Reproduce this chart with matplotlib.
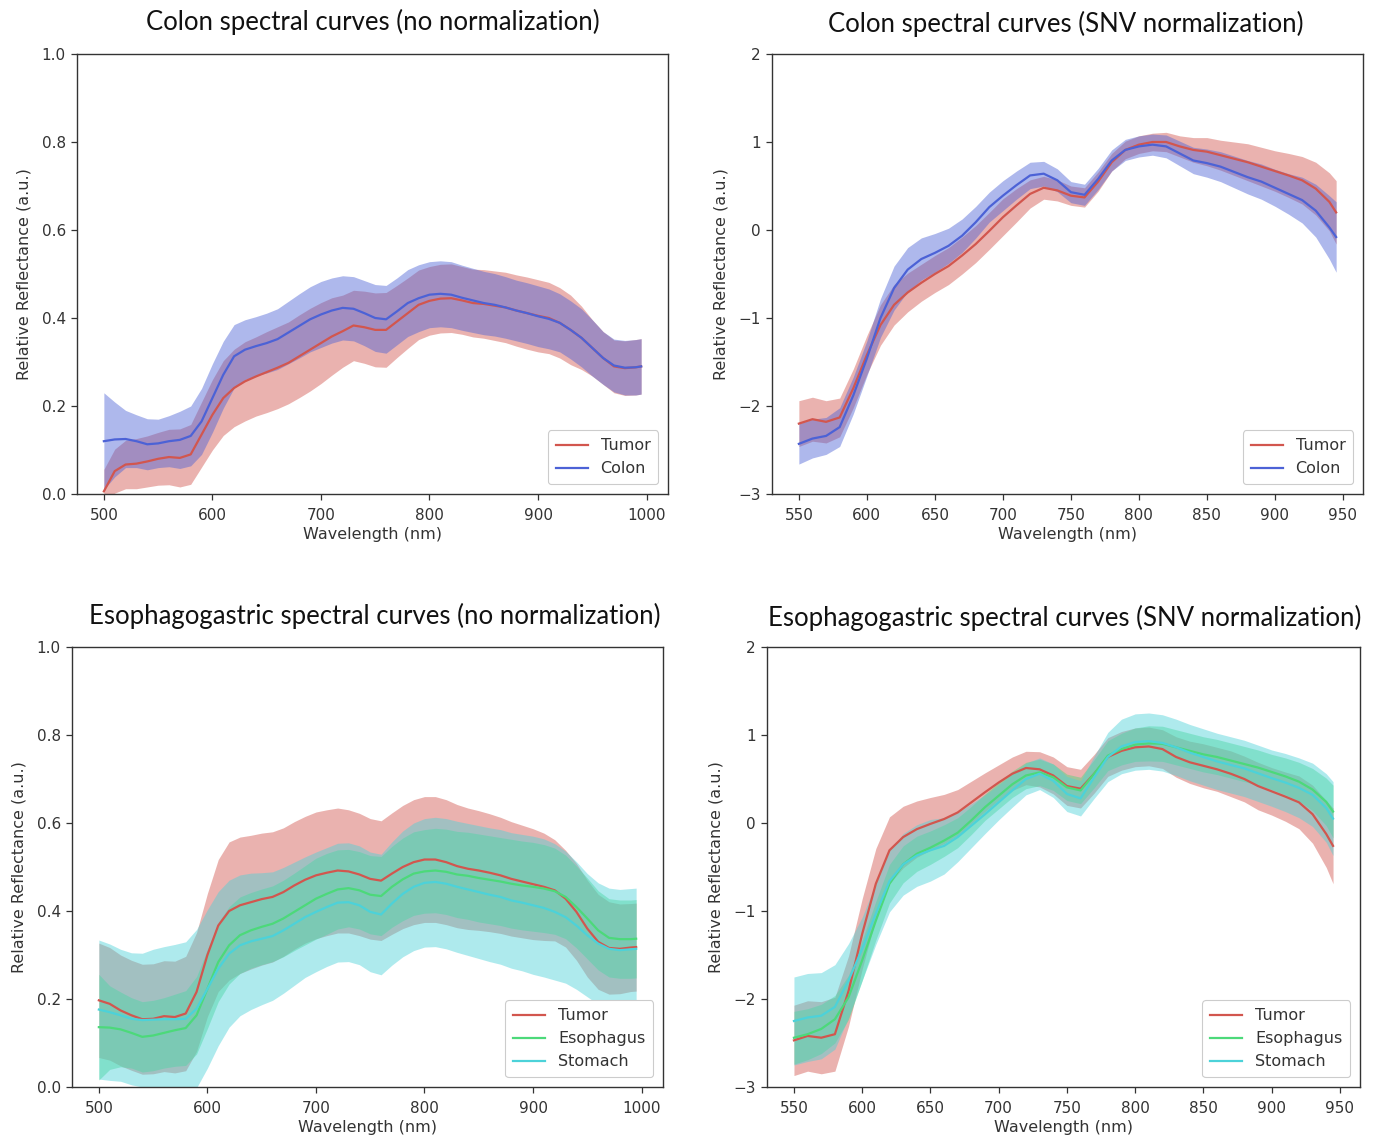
import matplotlib
matplotlib.use("Agg")
import matplotlib.pyplot as plt
import numpy as np

plt.rcParams['font.family'] = ['DejaVu Sans']

# ---------------- data ----------------
wl_raw = [500, 510, 520, 530, 540, 550, 560, 570, 580, 590,
          600, 610, 620, 630, 640, 650, 660, 670, 680, 690,
          700, 710, 720, 730, 740, 750, 760, 770, 780, 790,
          800, 810, 820, 830, 840, 850, 860, 870, 880, 890,
          900, 910, 920, 930, 940, 950, 960, 970, 980, 990, 995]
wl_snv = [550, 560, 570, 580, 590, 600, 610, 620, 630, 640,
          650, 660, 670, 680, 690, 700, 710, 720, 730, 740,
          750, 760, 770, 780, 790, 800, 810, 820, 830, 840,
          850, 860, 870, 880, 890, 900, 910, 920, 930, 940, 945]

# Colon, no normalization
colon_raw_tumor_mean = [0.006, 0.052, 0.067, 0.069, 0.074, 0.080, 0.084, 0.082, 0.090, 0.135,
                        0.180, 0.218, 0.241, 0.256, 0.267, 0.277, 0.287, 0.298, 0.313, 0.328,
                        0.343, 0.358, 0.370, 0.383, 0.379, 0.373, 0.373, 0.392, 0.411, 0.430,
                        0.439, 0.444, 0.445, 0.440, 0.434, 0.432, 0.428, 0.424, 0.417, 0.411,
                        0.405, 0.400, 0.389, 0.373, 0.355, 0.332, 0.309, 0.290, 0.286, 0.288, 0.290]
colon_raw_tumor_std = [0.050, 0.050, 0.055, 0.057, 0.058, 0.060, 0.063, 0.066, 0.068, 0.074,
                       0.080, 0.085, 0.088, 0.090, 0.090, 0.092, 0.093, 0.093, 0.094, 0.094,
                       0.092, 0.088, 0.082, 0.080, 0.082, 0.084, 0.085, 0.082, 0.080, 0.079,
                       0.078, 0.078, 0.078, 0.077, 0.077, 0.078, 0.079, 0.080, 0.081, 0.082,
                       0.082, 0.081, 0.080, 0.079, 0.072, 0.064, 0.060, 0.060, 0.062, 0.063, 0.063]
colon_raw_colon_mean = [0.120, 0.124, 0.125, 0.120, 0.113, 0.115, 0.120, 0.123, 0.132, 0.165,
                        0.218, 0.271, 0.313, 0.328, 0.336, 0.343, 0.352, 0.367, 0.382, 0.397,
                        0.408, 0.417, 0.423, 0.421, 0.411, 0.400, 0.397, 0.415, 0.434, 0.445,
                        0.453, 0.455, 0.453, 0.446, 0.440, 0.434, 0.430, 0.424, 0.417, 0.411,
                        0.404, 0.398, 0.389, 0.373, 0.355, 0.332, 0.309, 0.292, 0.287, 0.288, 0.290]
colon_raw_colon_std = [0.110, 0.085, 0.065, 0.060, 0.058, 0.055, 0.058, 0.065, 0.068, 0.075,
                       0.078, 0.076, 0.072, 0.068, 0.067, 0.068, 0.069, 0.071, 0.073, 0.074,
                       0.075, 0.074, 0.073, 0.073, 0.074, 0.076, 0.077, 0.076, 0.076, 0.076,
                       0.075, 0.075, 0.075, 0.074, 0.073, 0.072, 0.071, 0.070, 0.069, 0.069,
                       0.069, 0.068, 0.066, 0.066, 0.066, 0.064, 0.060, 0.060, 0.062, 0.063, 0.063]

# Colon, SNV normalization
colon_snv_tumor_mean = [-2.20, -2.15, -2.18, -2.13, -1.80, -1.42, -1.08, -0.85, -0.71, -0.60,
                        -0.50, -0.41, -0.29, -0.16, -0.01, 0.145, 0.28, 0.41, 0.48, 0.45,
                        0.39, 0.37, 0.55, 0.77, 0.91, 0.97, 1.00, 1.00, 0.95, 0.91,
                        0.89, 0.85, 0.81, 0.77, 0.72, 0.67, 0.62, 0.565, 0.47, 0.32, 0.20]
colon_snv_tumor_std = [0.26, 0.25, 0.24, 0.22, 0.22, 0.22, 0.23, 0.23, 0.22, 0.21,
                       0.21, 0.21, 0.21, 0.21, 0.21, 0.21, 0.19, 0.16, 0.13, 0.12,
                       0.11, 0.11, 0.11, 0.10, 0.10, 0.10, 0.10, 0.11, 0.12, 0.14,
                       0.16, 0.17, 0.19, 0.21, 0.22, 0.23, 0.25, 0.27, 0.30, 0.33, 0.36]
colon_snv_colon_mean = [-2.43, -2.37, -2.34, -2.24, -1.88, -1.46, -1.00, -0.66, -0.45, -0.33,
                        -0.26, -0.18, -0.065, 0.088, 0.26, 0.39, 0.51, 0.62, 0.64, 0.565,
                        0.43, 0.40, 0.58, 0.79, 0.91, 0.95, 0.97, 0.95, 0.87, 0.79,
                        0.76, 0.72, 0.66, 0.60, 0.55, 0.48, 0.41, 0.34, 0.22, 0.03, -0.08]
colon_snv_colon_std = [0.23, 0.22, 0.21, 0.22, 0.21, 0.20, 0.22, 0.25, 0.25, 0.24,
                       0.22, 0.20, 0.19, 0.18, 0.17, 0.17, 0.16, 0.15, 0.14, 0.13,
                       0.12, 0.12, 0.12, 0.12, 0.12, 0.12, 0.12, 0.13, 0.14, 0.15,
                       0.16, 0.17, 0.18, 0.19, 0.20, 0.21, 0.23, 0.26, 0.30, 0.36, 0.40]

# Esophagogastric, no normalization
eg_raw_tumor_mean = [0.197, 0.189, 0.174, 0.163, 0.154, 0.155, 0.161, 0.159, 0.167, 0.216,
                     0.300, 0.367, 0.400, 0.413, 0.420, 0.427, 0.432, 0.443, 0.458, 0.471,
                     0.481, 0.487, 0.492, 0.490, 0.483, 0.473, 0.469, 0.485, 0.500, 0.511,
                     0.517, 0.517, 0.511, 0.502, 0.496, 0.492, 0.487, 0.481, 0.473, 0.467,
                     0.461, 0.455, 0.447, 0.428, 0.398, 0.360, 0.330, 0.316, 0.314, 0.317, 0.318]
eg_raw_tumor_std = [0.130, 0.128, 0.126, 0.125, 0.125, 0.125, 0.126, 0.127, 0.130, 0.135,
                    0.140, 0.150, 0.157, 0.155, 0.152, 0.150, 0.148, 0.146, 0.145, 0.144,
                    0.144, 0.143, 0.142, 0.140, 0.139, 0.137, 0.136, 0.138, 0.140, 0.142,
                    0.143, 0.143, 0.142, 0.140, 0.138, 0.136, 0.134, 0.132, 0.130, 0.128,
                    0.126, 0.122, 0.115, 0.110, 0.110, 0.110, 0.108, 0.105, 0.102, 0.100, 0.100]
eg_raw_eso_mean = [0.136, 0.135, 0.131, 0.123, 0.114, 0.117, 0.123, 0.129, 0.134, 0.163,
                   0.223, 0.284, 0.322, 0.345, 0.356, 0.364, 0.371, 0.383, 0.398, 0.413,
                   0.428, 0.439, 0.449, 0.452, 0.447, 0.437, 0.434, 0.455, 0.472, 0.485,
                   0.490, 0.492, 0.489, 0.483, 0.480, 0.475, 0.471, 0.467, 0.462, 0.458,
                   0.455, 0.451, 0.445, 0.432, 0.409, 0.383, 0.356, 0.339, 0.336, 0.336, 0.337]
eg_raw_eso_std = [0.120, 0.095, 0.085, 0.080, 0.080, 0.080, 0.080, 0.082, 0.085, 0.088,
                  0.090, 0.090, 0.088, 0.087, 0.086, 0.086, 0.086, 0.087, 0.088, 0.090,
                  0.092, 0.092, 0.090, 0.088, 0.088, 0.089, 0.090, 0.092, 0.094, 0.095,
                  0.095, 0.096, 0.097, 0.098, 0.099, 0.100, 0.100, 0.100, 0.101, 0.101,
                  0.101, 0.100, 0.098, 0.095, 0.093, 0.092, 0.090, 0.089, 0.089, 0.089, 0.089]
eg_raw_sto_mean = [0.176, 0.170, 0.163, 0.155, 0.152, 0.153, 0.154, 0.154, 0.155, 0.178,
                   0.223, 0.269, 0.303, 0.322, 0.331, 0.337, 0.343, 0.356, 0.371, 0.386,
                   0.398, 0.409, 0.419, 0.420, 0.413, 0.398, 0.392, 0.417, 0.439, 0.455,
                   0.464, 0.466, 0.462, 0.455, 0.449, 0.443, 0.437, 0.432, 0.424, 0.419,
                   0.413, 0.407, 0.398, 0.386, 0.367, 0.345, 0.326, 0.314, 0.311, 0.313, 0.314]
eg_raw_sto_std = [0.158, 0.155, 0.150, 0.150, 0.152, 0.160, 0.165, 0.170, 0.175, 0.180,
                  0.180, 0.175, 0.167, 0.160, 0.155, 0.150, 0.146, 0.143, 0.140, 0.137,
                  0.136, 0.135, 0.135, 0.135, 0.135, 0.136, 0.137, 0.140, 0.143, 0.145,
                  0.146, 0.147, 0.148, 0.149, 0.150, 0.151, 0.152, 0.153, 0.154, 0.155,
                  0.157, 0.157, 0.155, 0.150, 0.145, 0.140, 0.138, 0.138, 0.138, 0.138, 0.138]

# Esophagogastric, SNV normalization
eg_snv_tumor_mean = [-2.47, -2.42, -2.44, -2.40, -1.91, -1.26, -0.69, -0.31, -0.16, -0.07,
                     -0.01, 0.045, 0.12, 0.235, 0.35, 0.46, 0.56, 0.625, 0.61, 0.54,
                     0.42, 0.39, 0.56, 0.75, 0.82, 0.86, 0.87, 0.84, 0.75, 0.69,
                     0.65, 0.61, 0.56, 0.50, 0.42, 0.36, 0.30, 0.235, 0.10, -0.125, -0.26]
eg_snv_tumor_std = [0.40, 0.40, 0.41, 0.42, 0.40, 0.40, 0.40, 0.38, 0.35, 0.32,
                    0.30, 0.28, 0.26, 0.24, 0.22, 0.20, 0.19, 0.19, 0.20, 0.21,
                    0.22, 0.22, 0.22, 0.22, 0.22, 0.22, 0.22, 0.22, 0.23, 0.24,
                    0.25, 0.25, 0.26, 0.26, 0.27, 0.27, 0.28, 0.30, 0.33, 0.38, 0.43]
eg_snv_eso_mean = [-2.44, -2.40, -2.34, -2.23, -1.98, -1.56, -1.11, -0.69, -0.47, -0.35,
                   -0.28, -0.20, -0.11, 0.03, 0.18, 0.31, 0.44, 0.54, 0.575, 0.52,
                   0.405, 0.37, 0.56, 0.765, 0.84, 0.89, 0.905, 0.90, 0.86, 0.82,
                   0.78, 0.75, 0.71, 0.67, 0.63, 0.58, 0.53, 0.47, 0.38, 0.24, 0.13]
eg_snv_eso_std = [0.30, 0.29, 0.28, 0.27, 0.25, 0.23, 0.22, 0.22, 0.21, 0.20,
                  0.19, 0.18, 0.17, 0.16, 0.15, 0.15, 0.15, 0.15, 0.15, 0.15,
                  0.15, 0.15, 0.16, 0.17, 0.18, 0.19, 0.20, 0.20, 0.20, 0.20,
                  0.20, 0.20, 0.20, 0.20, 0.20, 0.20, 0.21, 0.22, 0.24, 0.27, 0.30]
eg_snv_sto_mean = [-2.25, -2.21, -2.19, -2.09, -1.79, -1.43, -1.03, -0.66, -0.47, -0.37,
                   -0.31, -0.26, -0.16, -0.03, 0.10, 0.235, 0.37, 0.50, 0.56, 0.48,
                   0.33, 0.28, 0.52, 0.75, 0.87, 0.92, 0.93, 0.91, 0.86, 0.80,
                   0.75, 0.70, 0.66, 0.62, 0.565, 0.51, 0.46, 0.40, 0.32, 0.17, 0.05]
eg_snv_sto_std = [0.50, 0.50, 0.49, 0.48, 0.42, 0.36, 0.35, 0.35, 0.35, 0.35,
                  0.35, 0.32, 0.28, 0.25, 0.22, 0.20, 0.19, 0.18, 0.18, 0.19,
                  0.20, 0.20, 0.24, 0.28, 0.31, 0.32, 0.32, 0.32, 0.32, 0.32,
                  0.32, 0.32, 0.32, 0.32, 0.32, 0.32, 0.33, 0.34, 0.36, 0.39, 0.42]

titles = ["Colon spectral curves (no normalization)",
          "Colon spectral curves (SNV normalization)",
          "Esophagogastric spectral curves (no normalization)",
          "Esophagogastric spectral curves (SNV normalization)"]
colon_labels = ["Tumor", "Colon"]
eg_labels = ["Tumor", "Esophagus", "Stomach"]
raw_xticks = [500, 600, 700, 800, 900, 1000]
snv_xticks = [550, 600, 650, 700, 750, 800, 850, 900, 950]
raw_yticks = [0.0, 0.2, 0.4, 0.6, 0.8, 1.0]
snv_yticks = [-3, -2, -1, 0, 1, 2]

# ---------------- style ----------------
RED = "#d2564e"
BLUE = "#4c62d6"
GREEN = "#4cd97a"
CYAN = "#4cd2d9"
TXT = "#333333"

W, H = 1376, 1138
fig = plt.figure(figsize=(W / 100, H / 100), dpi=100)

def axpos(left, top, right, bottom):
    return [left / W, 1 - bottom / H, (right - left) / W, (bottom - top) / H]

ax_tl = fig.add_axes(axpos(77, 54, 668, 494))
ax_tr = fig.add_axes(axpos(772, 54, 1363, 494))
ax_bl = fig.add_axes(axpos(72, 647, 663, 1087))
ax_br = fig.add_axes(axpos(767, 647, 1360, 1087))

def draw(ax, wl, series, labels, colors, xlim, ylim, xticks, yticks):
    wl = np.asarray(wl)
    for (m, s), lab, c in zip(series, labels, colors):
        m = np.asarray(m)
        s = np.asarray(s)
        ax.plot(wl, m, color=c, lw=1.6, label=lab)
        ax.fill_between(wl, m - s, m + s, color=c, alpha=0.45, lw=0)
    ax.set_xlim(*xlim)
    ax.set_ylim(*ylim)
    ax.set_xticks(xticks)
    ax.set_yticks(yticks)
    ax.tick_params(labelsize=11, length=4, width=0.9, pad=4,
                   color="#333333", labelcolor=TXT)
    ax.tick_params(axis="x", pad=6)
    for sp in ax.spines.values():
        sp.set_color("#333333")
        sp.set_linewidth(1.0)
    ax.set_xlabel("Wavelength (nm)", fontsize=11.5, labelpad=3, color=TXT)
    ax.set_ylabel("Relative Reflectance (a.u.)", fontsize=11.5, labelpad=7, color=TXT)
    leg = ax.legend(loc="lower right", fontsize=11.5, framealpha=1,
                    edgecolor="#cccccc", fancybox=True, handlelength=2.0,
                    borderaxespad=0.6, labelcolor=TXT, borderpad=0.5)
    leg.get_frame().set_linewidth(0.8)

draw(ax_tl, wl_raw,
     [(colon_raw_tumor_mean, colon_raw_tumor_std), (colon_raw_colon_mean, colon_raw_colon_std)],
     colon_labels, [RED, BLUE], (475.25, 1019.75), (0, 1), raw_xticks, raw_yticks)
draw(ax_tr, wl_snv,
     [(colon_snv_tumor_mean, colon_snv_tumor_std), (colon_snv_colon_mean, colon_snv_colon_std)],
     colon_labels, [RED, BLUE], (530.25, 964.75), (-3, 2), snv_xticks, snv_yticks)
draw(ax_bl, wl_raw,
     [(eg_raw_tumor_mean, eg_raw_tumor_std), (eg_raw_eso_mean, eg_raw_eso_std),
      (eg_raw_sto_mean, eg_raw_sto_std)],
     eg_labels, [RED, GREEN, CYAN], (475.25, 1019.75), (0, 1), raw_xticks, raw_yticks)
draw(ax_br, wl_snv,
     [(eg_snv_tumor_mean, eg_snv_tumor_std), (eg_snv_eso_mean, eg_snv_eso_std),
      (eg_snv_sto_mean, eg_snv_sto_std)],
     eg_labels, [RED, GREEN, CYAN], (530.25, 964.75), (-3, 2), snv_xticks, snv_yticks)

title_font = dict(family=["Lato", "DejaVu Sans"], fontsize=18.5, color="#111111",
                  ha="center", va="center")
fig.text(372.5 / W, 1 - 22 / H, titles[0], **title_font)
fig.text(1066 / W, 1 - 24 / H, titles[1], **title_font)
fig.text(375 / W, 1 - 616 / H, titles[2], **title_font)
fig.text(1065 / W, 1 - 618 / H, titles[3], **title_font)

fig.savefig("out.png", dpi=100)
